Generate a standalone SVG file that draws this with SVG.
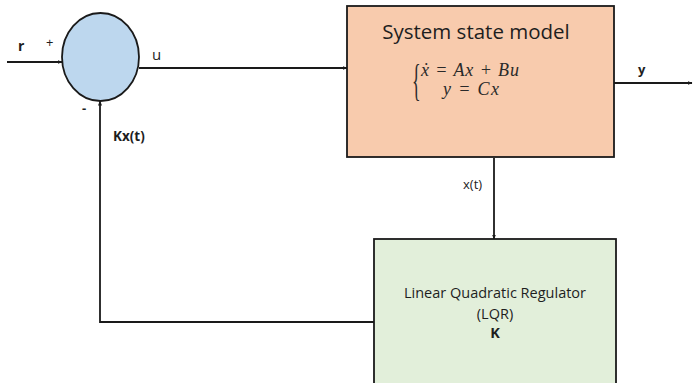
<svg xmlns="http://www.w3.org/2000/svg" width="693" height="383" viewBox="0 0 693 383">
<style>
.ln{fill:none;stroke:#1a1a1a;stroke-width:1.8}
.t{font-family:"Open Sans","Liberation Sans",sans-serif;fill:#1e1e1e}
.b{font-weight:bold}
.m{font-family:"Liberation Serif",serif;font-style:italic;fill:#2a2a2a;font-size:18px}
.br{font-family:"Liberation Serif",serif;fill:#2a2a2a;font-size:30px}
</style>
<defs>
<marker id="ah" viewBox="0 0 10 10" refX="9" refY="5" markerWidth="5" markerHeight="5" orient="auto-start-reverse" markerUnits="userSpaceOnUse">
<path d="M0,1 L10,5 L0,9 z" fill="#1a1a1a"/>
</marker>
</defs>
<rect width="693" height="383" fill="#fff"/>
<g id="connectors">
<line class="ln" x1="7" y1="62" x2="62" y2="62" marker-end="url(#ah)"/>
<line class="ln" x1="139" y1="68" x2="347" y2="68" marker-end="url(#ah)"/>
<line class="ln" x1="614" y1="83" x2="692" y2="83" marker-end="url(#ah)"/>
<line class="ln" x1="494" y1="158" x2="494" y2="239" stroke-width="2.4" marker-end="url(#ah)"/>
<polyline class="ln" points="374,322 100,322 100,101" marker-end="url(#ah)"/>
<text class="t b" x="18" y="51" font-size="14">r</text>
<text class="t" x="46" y="47" font-size="13">+</text>
<text class="t" x="152" y="60" font-size="15">u</text>
<text class="t b" x="82" y="113" font-size="13">-</text>
<text class="t b" x="113" y="141" font-size="13.5">Kx(t)</text>
<text class="t b" x="638" y="74" font-size="13">y</text>
<text class="t" x="463" y="189" font-size="13">x(t)</text>
</g>
<g id="sum">
<ellipse cx="100.5" cy="57" rx="38.5" ry="44" fill="#bdd7ee" stroke="#1a1a1a" stroke-width="1.8"/>
</g>
<g id="system">
<rect x="347" y="6" width="267" height="151" fill="#f8cbad" stroke="#1a1a1a" stroke-width="1.8"/>
<text class="t" x="476" y="39" font-size="20.5" text-anchor="middle">System state model</text>
<text class="br" transform="translate(412,95) scale(0.6,1.45)">{</text>
<text class="m" x="421" y="76" textLength="98" lengthAdjust="spacing">ẋ = Ax + Bu</text>
<text class="m" x="443" y="95" textLength="56" lengthAdjust="spacing">y = Cx</text>
</g>
<g id="lqr">
<rect x="374" y="239" width="242" height="150" fill="#e2efda" stroke="#1a1a1a" stroke-width="1.8"/>
<text class="t" x="495" y="298" font-size="14.5" text-anchor="middle">Linear Quadratic Regulator</text>
<text class="t" x="495" y="319" font-size="14.5" text-anchor="middle">(LQR)</text>
<text class="t b" x="495" y="338" font-size="14.5" text-anchor="middle">K</text>
</g>
</svg>
